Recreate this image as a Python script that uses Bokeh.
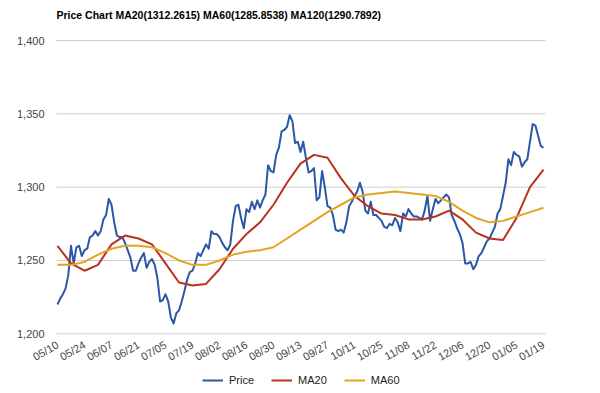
from math import pi
from bokeh.plotting import figure
from bokeh.models import Range1d, FixedTicker, Legend, LegendItem, NumeralTickFormatter, Label
from bokeh.embed import file_html
from bokeh.resources import INLINE

title_text = "Price Chart MA20(1312.2615) MA60(1285.8538) MA120(1290.7892)"

date_labels = ["05/10", "05/24", "06/07", "06/21", "07/05", "07/19", "08/02", "08/16",
               "08/30", "09/13", "09/27", "10/11", "10/25", "11/08", "11/22", "12/06",
               "12/20", "01/05", "01/19"]
label_step = 10  # trading days between date labels

y_ticks = [1200, 1250, 1300, 1350, 1400]

# Daily price (trading-day index 0..180)
price = [
    1220, 1224, 1227, 1231, 1240, 1260, 1248, 1259, 1260, 1253,
    1257, 1258, 1266, 1267, 1270, 1267, 1270, 1278, 1281, 1292,
    1288, 1276, 1267, 1266, 1266, 1262, 1257, 1252, 1243, 1243,
    1248, 1252, 1255, 1245, 1249, 1251, 1247, 1238, 1222, 1223,
    1227, 1222, 1211, 1207, 1214, 1216, 1222, 1229, 1237, 1242,
    1243, 1248, 1255, 1253, 1257, 1261, 1258, 1270, 1268, 1268,
    1266, 1262, 1259, 1257, 1261, 1277, 1287, 1288, 1279, 1272,
    1285, 1283, 1290, 1285, 1291, 1286, 1291, 1295, 1315, 1311,
    1310, 1322, 1327, 1338, 1339, 1341, 1349, 1345, 1330, 1331,
    1324, 1331, 1320, 1310, 1311, 1313, 1291, 1293, 1311, 1300,
    1287, 1286, 1281, 1271, 1270, 1271, 1269, 1276, 1287, 1290,
    1294, 1297, 1303, 1297, 1284, 1282, 1290, 1281, 1281, 1279,
    1277, 1273, 1272, 1275, 1274, 1279, 1276, 1270, 1282, 1280,
    1285, 1282, 1280, 1280, 1279, 1278, 1284, 1294, 1277, 1285,
    1292, 1289, 1291, 1293, 1295, 1293, 1281, 1277, 1272, 1268,
    1262, 1248, 1248, 1249, 1244, 1247, 1253, 1255, 1259, 1263,
    1265, 1269, 1273, 1282, 1285, 1294, 1303, 1319, 1315, 1324,
    1322, 1321, 1314, 1317, 1319, 1331, 1343, 1342, 1335, 1328,
    1327,
]
day_index = list(range(len(price)))

# Moving averages, read every 5 trading days
ma_index = list(range(0, 181, 5))
ma20 = [1260, 1248, 1243, 1247, 1261, 1267, 1265, 1261, 1248, 1235,
        1233, 1234, 1244, 1258, 1268, 1276, 1288, 1303, 1316, 1322,
        1320, 1306, 1294, 1287, 1282, 1281, 1278, 1278, 1280, 1284,
        1278, 1269, 1265, 1264, 1279, 1300, 1312]
ma60 = [1247, 1247, 1249, 1254, 1258, 1260, 1260, 1259, 1255, 1250,
        1247, 1247, 1250, 1254, 1256, 1257, 1259, 1265, 1271, 1277,
        1283, 1288, 1293, 1295, 1296, 1297, 1296, 1295, 1294, 1290,
        1284, 1279, 1276, 1277, 1280, 1283, 1286]

c_price = "#2b57a7"
c_ma20 = "#b8321d"
c_ma60 = "#e5a323"
font = "Liberation Sans"

# ---- layout (pixels) ----
W, H = 600, 393
plot_left_px, plot_right_px = 57.0, 543.0      # first / last trading day
plot_top_px, plot_bottom_px = 40.0, 333.3      # 1,400 / 1,200 lines
grid_left_px, grid_right_px = 56.0, 545.0

x_scale = (plot_right_px - plot_left_px) / (day_index[-1] - day_index[0])
y_scale = (plot_bottom_px - plot_top_px) / (y_ticks[-1] - y_ticks[0])
x_start = day_index[0] - plot_left_px / x_scale
x_end = day_index[-1] + (W - plot_right_px) / x_scale
y_end = y_ticks[-1] + plot_top_px / y_scale
y_start = y_ticks[0] - (H - plot_bottom_px) / y_scale
grid_x0 = day_index[0] - (plot_left_px - grid_left_px) / x_scale
grid_x1 = day_index[-1] + (grid_right_px - plot_right_px) / x_scale

p = figure(frame_width=W, frame_height=H, output_backend="svg", toolbar_location=None,
           x_range=Range1d(x_start, x_end), y_range=Range1d(y_start, y_end),
           min_border=0, min_border_left=0, min_border_right=0,
           min_border_top=0, min_border_bottom=0)
p.outline_line_color = None
p.background_fill_color = "white"
p.border_fill_color = "white"
p.xgrid.visible = False
p.ygrid.visible = False

# horizontal grid lines at the y ticks
p.segment(x0=[grid_x0] * len(y_ticks), x1=[grid_x1] * len(y_ticks),
          y0=y_ticks, y1=y_ticks, line_color="#cccccc", line_width=1)

r_price = p.line(day_index, price, line_color=c_price, line_width=2, line_join="round")
r_ma20 = p.line(ma_index, ma20, line_color=c_ma20, line_width=2, line_join="round")
r_ma60 = p.line(ma_index, ma60, line_color=c_ma60, line_width=2, line_join="round")

# x axis, drawn at the 1,200 line
ticks = [i * label_step for i in range(len(date_labels))]
p.xaxis.fixed_location = y_ticks[0]
p.xaxis.ticker = FixedTicker(ticks=ticks)
p.xaxis.major_label_overrides = {t: lbl for t, lbl in zip(ticks, date_labels)}
p.xaxis.major_label_orientation = pi / 6
p.xaxis.axis_line_color = None
p.xaxis.major_tick_line_color = None
p.xaxis.minor_tick_line_color = None
p.xaxis.major_label_standoff = 4
p.xaxis.major_label_text_font = font
p.xaxis.major_label_text_font_size = "11px"
p.xaxis.major_label_text_color = "#444444"

# y axis, drawn at the grid's left edge
p.yaxis.fixed_location = grid_x0
p.yaxis.ticker = FixedTicker(ticks=y_ticks)
p.yaxis.formatter = NumeralTickFormatter(format="0,0")
p.yaxis.axis_line_color = None
p.yaxis.major_tick_line_color = None
p.yaxis.minor_tick_line_color = None
p.yaxis.major_tick_out = 0
p.yaxis.major_tick_in = 0
p.yaxis.major_label_standoff = 12
p.yaxis.major_label_text_font = font
p.yaxis.major_label_text_font_size = "11px"
p.yaxis.major_label_text_color = "#444444"

# title
p.add_layout(Label(x=grid_left_px, y=H - 14, x_units="screen", y_units="screen",
                   text=title_text, text_font=font, text_font_size="10.5px",
                   text_font_style="bold", text_color="#000000",
                   text_baseline="middle", text_align="left"))

legend = Legend(items=[LegendItem(label="Price", renderers=[r_price]),
                       LegendItem(label="MA20", renderers=[r_ma20]),
                       LegendItem(label="MA60", renderers=[r_ma60])],
                location=(202, 7), orientation="horizontal")
legend.border_line_color = None
legend.background_fill_alpha = 0
legend.padding = 0
legend.margin = 0
legend.spacing = 17
legend.glyph_width = 21
legend.glyph_height = 12
legend.label_height = 12
legend.label_standoff = 6
legend.label_text_font = font
legend.label_text_font_size = "11px"
legend.label_text_color = "#222222"
p.add_layout(legend)

open("out.html", "w").write(file_html(p, INLINE))
